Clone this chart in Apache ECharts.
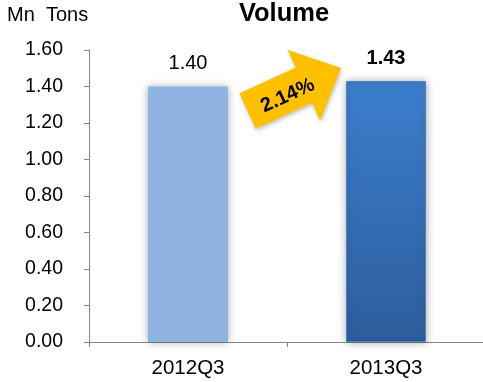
<!DOCTYPE html>
<html>
<head>
<meta charset="utf-8">
<script src="https://cdn.jsdelivr.net/npm/echarts@6/dist/echarts.min.js"></script>
<style>
  html, body { margin: 0; padding: 0; background: #fff; }
  #chart { width: 483px; height: 382px; }
</style>
</head>
<body>
<div id="chart"></div>
<script>
// Quarterly volume, million tons
const categories = ['2012Q3', '2013Q3'];
const volumes = [1.40, 1.43];
const growthLabel = '2.14%';
const yTicks = { min: 0, max: 1.6, interval: 0.2 };

const FONT = '"Liberation Sans", Arial, sans-serif';

const barStyles = [
  { color: '#8EB4E3', bold: false },
  {
    color: new echarts.graphic.LinearGradient(0, 0, 0, 1, [
      { offset: 0, color: '#3C7ECD' },
      { offset: 1, color: '#2D5E9C' }
    ]),
    bold: true
  }
];

const chart = echarts.init(document.getElementById('chart'));

// Arrow (shaft + head) in local coordinates, pointing along +x
const arrowPoints = [
  [0, -19.5], [62, -19.5], [62, -39], [103, 0],
  [62, 39], [62, 19.5], [0, 19.5]
];
const arrowAngle = 24.7 * Math.PI / 180;

chart.setOption({
  animation: false,
  title: [{
    text: 'Volume',
    left: 284,
    top: 1,
    padding: 0,
    textAlign: 'center',
    textStyle: { fontFamily: FONT, fontSize: 25.5, fontWeight: 'bold', color: '#000' }
  }, {
    text: 'Mn  Tons',
    left: 7,
    top: 5,
    padding: 0,
    textStyle: { fontFamily: FONT, fontSize: 20, fontWeight: 'normal', color: '#000' }
  }],
  grid: { left: 89, right: -2, top: 50, bottom: 40, containLabel: false, outerBoundsMode: 'none' },
  xAxis: {
    type: 'category',
    data: categories,
    axisLine: { lineStyle: { color: '#868686', width: 1 } },
    axisTick: { show: true, length: 5, lineStyle: { color: '#868686' } },
    axisLabel: { fontFamily: FONT, fontSize: 20.5, color: '#000', margin: 16 }
  },
  yAxis: {
    type: 'value',
    min: yTicks.min,
    max: yTicks.max,
    interval: yTicks.interval,
    splitLine: { show: false },
    axisLine: { show: true, lineStyle: { color: '#868686', width: 1 } },
    axisTick: { show: true, length: 5, lineStyle: { color: '#868686' } },
    axisLabel: {
      fontFamily: FONT, fontSize: 19.5, color: '#000', margin: 26,
      formatter: v => v.toFixed(2)
    }
  },
  series: [{
    type: 'bar',
    barWidth: 80,
    data: volumes.map((v, i) => ({
      value: v,
      itemStyle: {
        color: barStyles[i].color,
        shadowColor: 'rgba(0,0,0,0.35)',
        shadowBlur: 8,
        borderColor: i === 1 ? '#4A82C4' : 'transparent',
        borderWidth: i === 1 ? 1 : 0
      },
      label: {
        show: true,
        position: 'top',
        distance: 13,
        fontFamily: FONT,
        fontSize: 20,
        fontWeight: barStyles[i].bold ? 'bold' : 'normal',
        color: '#000',
        formatter: p => p.value.toFixed(2)
      }
    }))
  }],
  graphic: [{
    type: 'group',
    x: 247.5,
    y: 111,
    rotation: arrowAngle,
    children: [{
      type: 'polygon',
      shape: { points: arrowPoints },
      style: { fill: '#FFC000', shadowColor: 'rgba(0,0,0,0.25)', shadowBlur: 4, shadowOffsetX: 1, shadowOffsetY: 2 }
    }, {
      type: 'text',
      x: 43,
      y: 3,
      style: {
        text: growthLabel,
        fontFamily: FONT,
        fontSize: 20,
        fontWeight: 'bold',
        fill: '#000',
        align: 'center',
        verticalAlign: 'middle'
      }
    }]
  }]
});
</script>
</body>
</html>
